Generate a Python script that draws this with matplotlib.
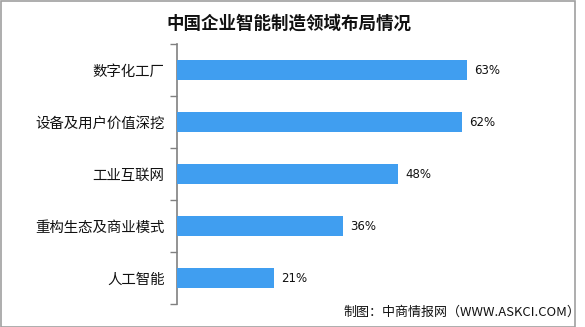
import matplotlib
matplotlib.use("Agg")
import matplotlib.pyplot as plt
from matplotlib.patches import Rectangle

plt.rcParams['font.family'] = ['Noto Sans CJK SC', 'DejaVu Sans']

title = "中国企业智能制造领域布局情况"
categories = ["数字化工厂", "设备及用户价值深挖", "工业互联网", "重构生态及商业模式", "人工智能"]
values = [63, 62, 48, 36, 21]
source = "制图：中商情报网（WWW.ASKCI.COM）"

W, H = 585, 327
fig = plt.figure(figsize=(W / 100, H / 100), dpi=100)
fig.patch.set_facecolor("white")

ax = fig.add_axes([177 / W, 1 - 304 / H, 368 / W, 260 / H])
ax.set_facecolor("none")
y = list(range(len(categories)))
ax.barh(y, values, height=0.385, color="#409EF0", zorder=3)
ax.set_ylim(len(categories) - 0.5, -0.5)
ax.set_xlim(0, 80)

for yi, v in zip(y, values):
    ax.text(v + 1.6, yi, f"{v}%", va="center", ha="left", fontsize=8.5,
            family=["DejaVu Sans"], color="#111111")

ax.set_yticks(y)
ax.set_yticklabels(categories, fontsize=10.4, color="#111111")
ax.tick_params(axis="y", which="major", length=0, pad=9)
ax.set_yticks([i + 0.5 for i in range(-1, len(categories))], minor=True)
ax.tick_params(axis="y", which="minor", length=5, width=1, color="#808080", direction="out")
ax.set_xticks([])
for s in ["top", "right", "bottom"]:
    ax.spines[s].set_visible(False)
ax.spines["left"].set_color("#808080")
ax.spines["left"].set_linewidth(1.2)

fig.text(289 / W, 1 - 24 / H, title, ha="center", va="center", fontsize=12.6,
         fontweight="bold", color="#111111")
fig.text(343 / W, 1 - 312 / H, source, ha="left", va="center", fontsize=9.4,
         color="#111111")

fig.add_artist(Rectangle((1 / W, 0.5 / H), 574 / W, (H - 1.5) / H, transform=fig.transFigure,
                         fill=False, edgecolor="#a0a0a0", linewidth=1.2))

fig.savefig("out.png", dpi=100, facecolor="white")
